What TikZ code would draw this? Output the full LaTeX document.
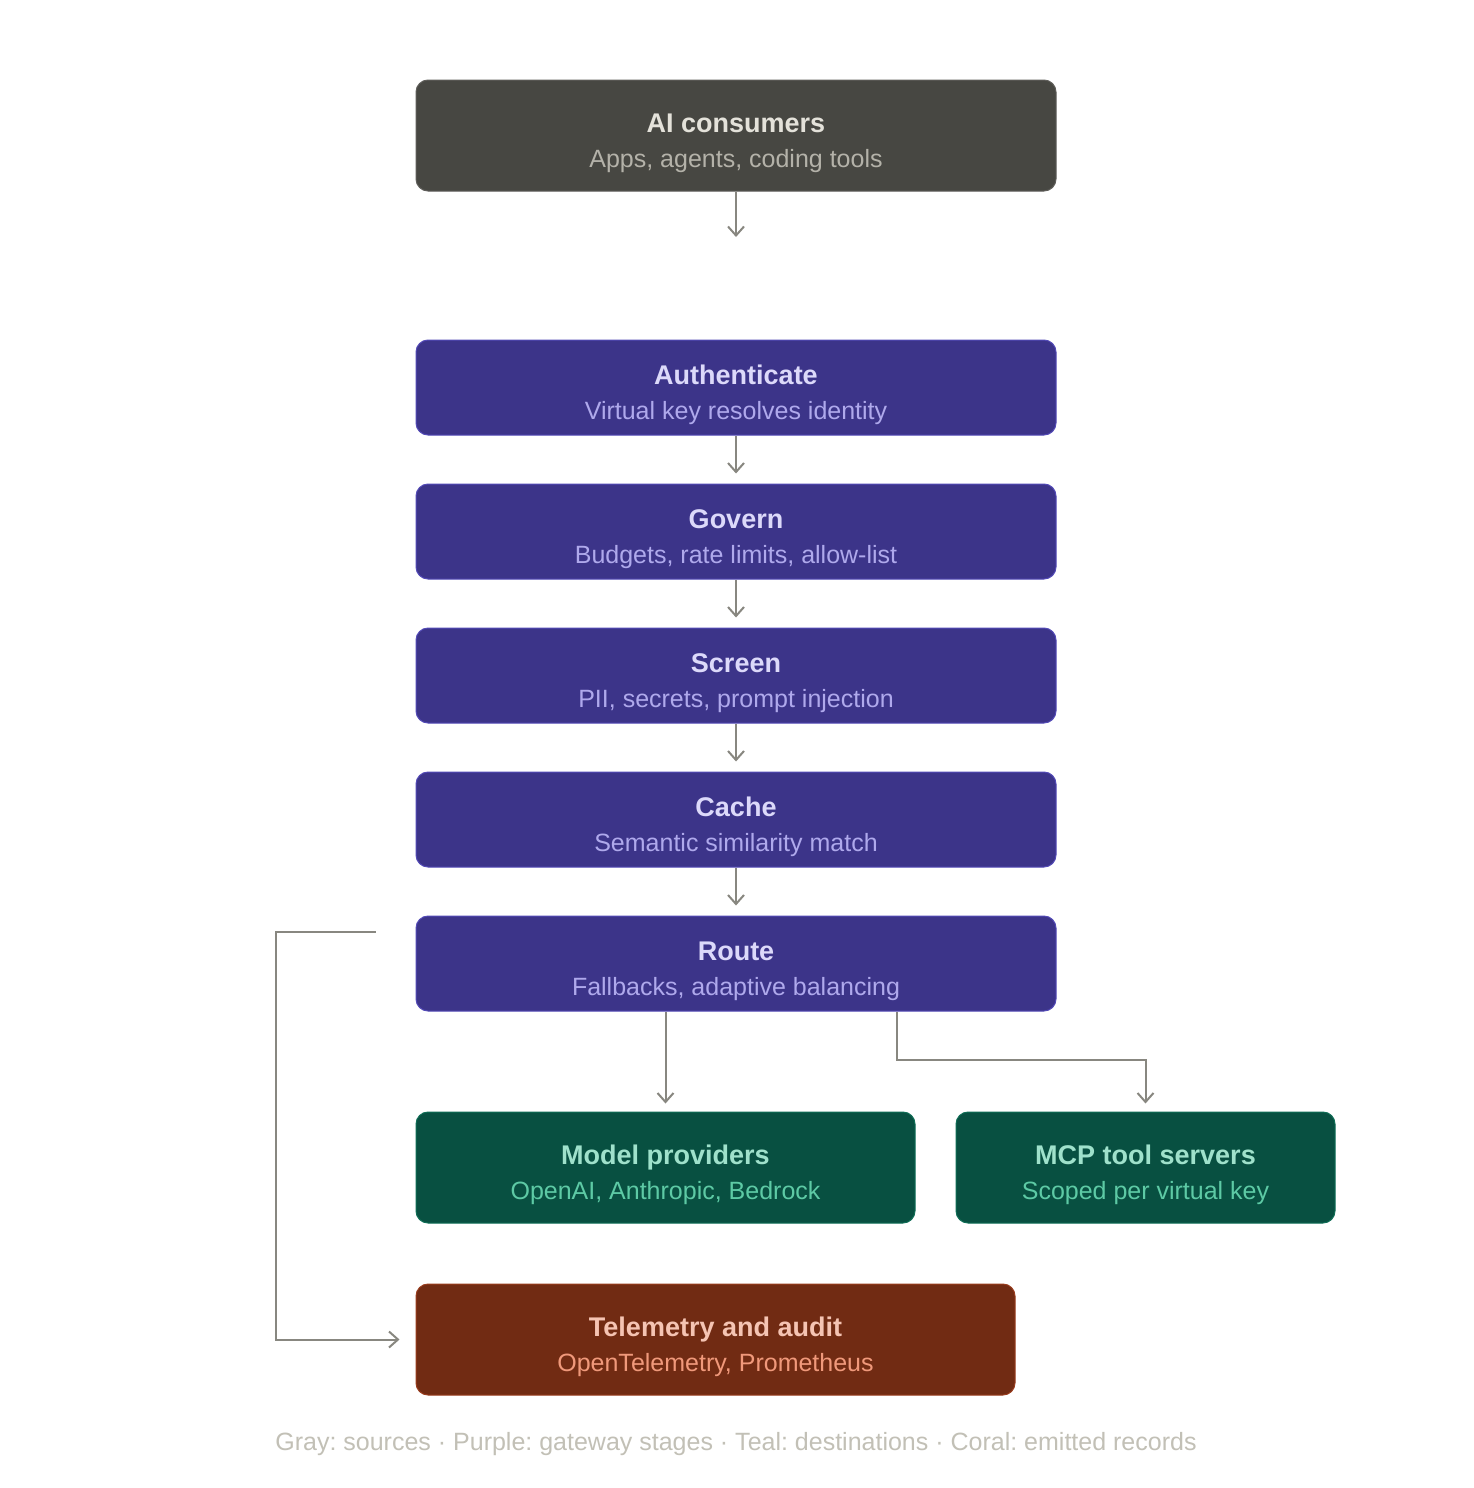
\documentclass[tikz,border=0pt]{standalone}
\usepackage{fontspec}
\setmainfont{Liberation Sans}
\usetikzlibrary{arrows.meta, positioning, calc}
\definecolor{srcfill}{HTML}{474742}
\definecolor{srcline}{HTML}{5F5E5A}
\definecolor{srctitle}{HTML}{E4E2DA}
\definecolor{srcsub}{HTML}{B4B2A9}
\definecolor{gwfill}{HTML}{3C3489}
\definecolor{gwline}{HTML}{534AB7}
\definecolor{gwtitle}{HTML}{DCD9FA}
\definecolor{gwsub}{HTML}{AFA9EC}
\definecolor{dstfill}{HTML}{085041}
\definecolor{dstline}{HTML}{0F6E56}
\definecolor{dsttitle}{HTML}{9FE1CB}
\definecolor{dstsub}{HTML}{5DCAA5}
\definecolor{recfill}{HTML}{712B13}
\definecolor{recline}{HTML}{993C1D}
\definecolor{rectitle}{HTML}{F5C4B3}
\definecolor{recsub}{HTML}{F0997B}
\definecolor{wire}{HTML}{888780}
\definecolor{legendgray}{HTML}{C2C0B6}

\newcommand{\boxtitle}[1]{{\fontsize{27}{30}\selectfont\bfseries\rule{0pt}{35pt}#1}}

\begin{document}
\frenchspacing
\begin{tikzpicture}[x=1pt, y=-1pt,
  stage/.style={rectangle, rounded corners=12pt, line width=1pt, align=center,
      inner sep=0pt, font=\fontsize{25}{35}\selectfont},
  srcbox/.style={stage, draw=srcline, fill=srcfill, text=srcsub,
      minimum width=640pt, minimum height=111pt},
  gwbox/.style={stage, draw=gwline, fill=gwfill, text=gwsub,
      minimum width=640pt, minimum height=95pt},
  dstbox/.style={stage, draw=dstline, fill=dstfill, text=dstsub, minimum height=111pt},
  recbox/.style={stage, draw=recline, fill=recfill, text=recsub, minimum height=111pt},
  flow/.style={draw=wire, line width=2pt, -{Straight Barb[length=9pt, width=16pt]},
      shorten >=10pt}]

% Page
\fill[white] (0,0) rectangle (1474,1488);
\useasboundingbox (0,0) rectangle (1474,1488);

% Source
\node[srcbox] (consumers) at (736,135.5)
  {{\color{srctitle}\boxtitle{AI consumers}}\\Apps, agents, coding tools};
\coordinate (entry) at (736,237);

% Gateway stages
\node[gwbox] (auth) at (736,387.5)
  {{\color{gwtitle}\boxtitle{Authenticate}}\\Virtual key resolves identity};
\node[gwbox, below=48pt of auth] (govern)
  {{\color{gwtitle}\boxtitle{Govern}}\\Budgets, rate limits, allow-list};
\node[gwbox, below=48pt of govern] (screen)
  {{\color{gwtitle}\boxtitle{Screen}}\\PII, secrets, prompt injection};
\node[gwbox, below=48pt of screen] (cache)
  {{\color{gwtitle}\boxtitle{Cache}}\\Semantic similarity match};
\node[gwbox, below=48pt of cache] (route)
  {{\color{gwtitle}\boxtitle{Route}}\\Fallbacks, adaptive balancing};

% Destinations
\node[dstbox, minimum width=499pt] (models) at (665.5,1167.5)
  {{\color{dsttitle}\boxtitle{Model providers}}\\OpenAI, Anthropic, Bedrock};
\node[dstbox, minimum width=379pt] (mcp) at (1145.5,1167.5)
  {{\color{dsttitle}\boxtitle{MCP tool servers}}\\Scoped per virtual key};

% Emitted records
\node[recbox, minimum width=599pt] (telemetry) at (715.5,1339.5)
  {{\color{rectitle}\boxtitle{Telemetry and audit}}\\OpenTelemetry, Prometheus};

% Connectors
\draw[flow, shorten >=0pt] (consumers) -- (entry);
\draw[flow] (auth) -- (govern);
\draw[flow] (govern) -- (screen);
\draw[flow] (screen) -- (cache);
\draw[flow] (cache) -- (route);
\draw[flow, shorten >=8pt] (route.south -| models.north) -- (models.north);
\draw[flow, shorten >=8pt] ($(route.south east)+(-160,0)$) -- ++(0,48) -| (mcp.north);
\coordinate (tap) at ($(route.north west)+(-40,16)$);
\draw[flow, shorten >=16pt] (tap) -- ++(-100,0) |- (telemetry.west);

% Legend
\node[text=legendgray, font=\fontsize{25}{28}\selectfont] (legend) at (736,1444)
  {Gray: sources · Purple: gateway stages · Teal: destinations · Coral: emitted records};

\end{tikzpicture}
\end{document}
